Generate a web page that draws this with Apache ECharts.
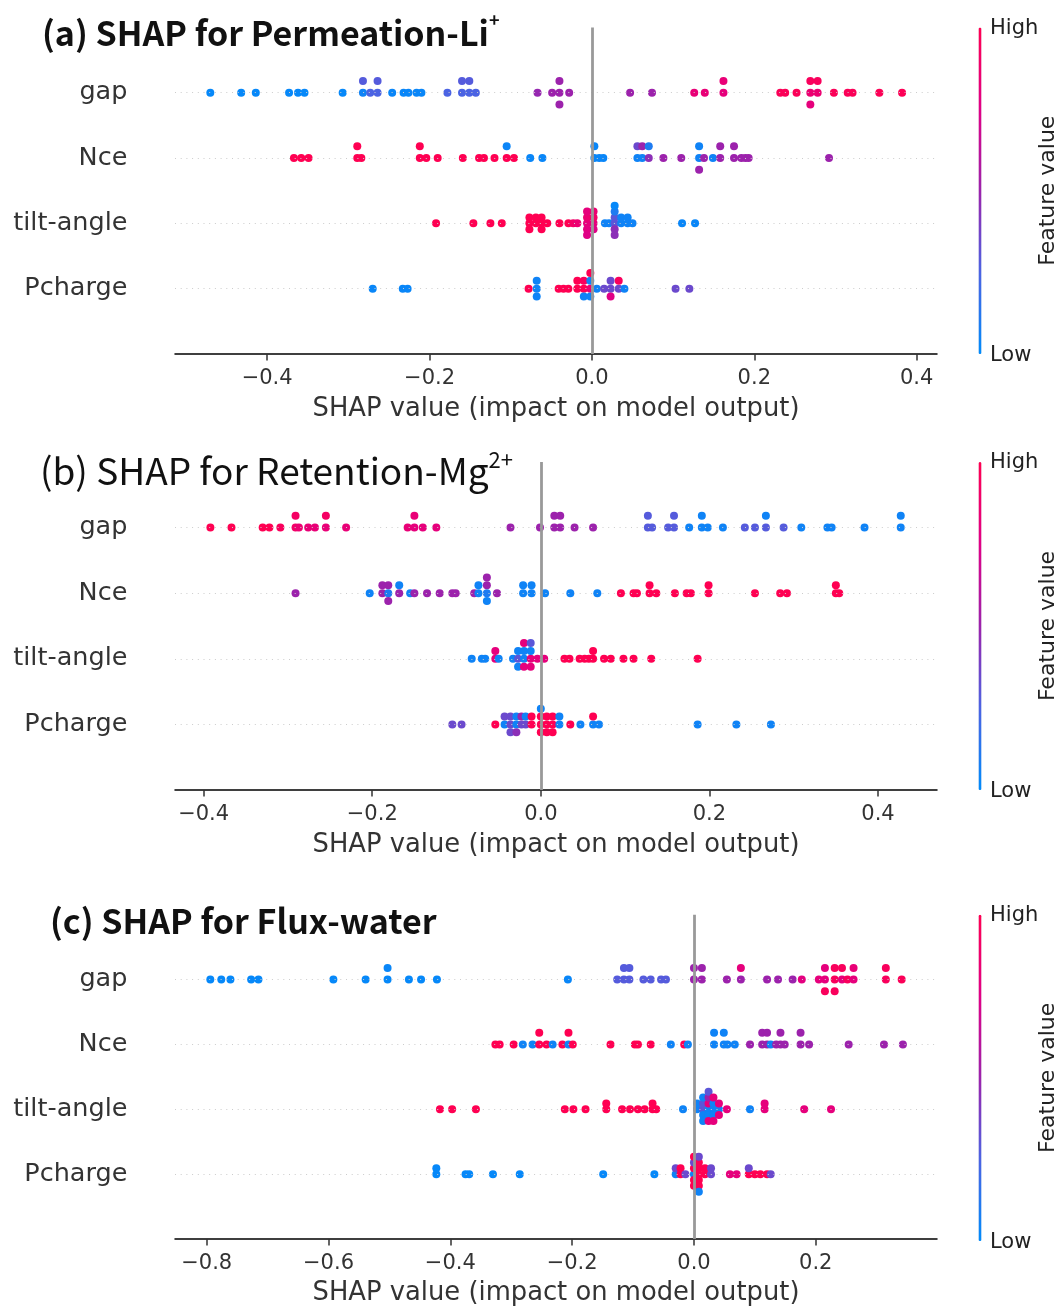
<!DOCTYPE html>
<html>
<head>
<meta charset="utf-8">
<script src="https://cdn.jsdelivr.net/npm/echarts@6/dist/echarts.min.js"></script>
<style>
  html, body { margin: 0; padding: 0; background: #fff; }
  #chart { width: 1062px; height: 1307px; }
</style>
</head>
<body>
<div id="chart"></div>
<script>
// Feature rows, listed top to bottom
const features = ['gap', 'Nce', 'tilt-angle', 'Pcharge'];

// Tick values of each SHAP axis
const ticksPerm = [-0.4, -0.2, 0.0, 0.2, 0.4];
const ticksRet = [-0.4, -0.2, 0.0, 0.2, 0.4];
const ticksFlux = [-0.8, -0.6, -0.4, -0.2, 0.0, 0.2];

const colorbarLabels = ['High', 'Low'];

// Each point: [SHAP value, normalised feature value (0 = low, 1 = high)]
// Points sharing a SHAP value fall in the same beeswarm bin.

// (a) Permeation-Li+
const permGap = [
  [-0.470,0.02],[-0.432,0.02],[-0.414,0.02],[-0.373,0.02],[-0.362,0.02],[-0.354,0.02],[-0.307,0.02],
  [-0.282,0.05],[-0.282,0.28],
  [-0.273,0.25],
  [-0.264,0.25],[-0.264,0.28],
  [-0.246,0.03],[-0.232,0.03],[-0.226,0.03],[-0.216,0.03],[-0.210,0.03],
  [-0.178,0.25],
  [-0.160,0.25],[-0.160,0.28],
  [-0.151,0.25],[-0.151,0.28],
  [-0.143,0.25],
  [-0.067,0.48],[-0.049,0.5],
  [-0.040,0.5],[-0.040,0.5],[-0.040,0.5],
  [-0.028,0.5],[0.047,0.5],[0.074,0.5],
  [0.126,0.82],[0.139,0.82],
  [0.162,0.8],[0.162,0.82],
  [0.232,0.97],[0.238,0.97],[0.252,0.97],
  [0.269,0.85],[0.269,0.95],[0.269,0.8],
  [0.278,0.85],[0.278,0.95],
  [0.298,0.97],[0.315,0.97],[0.321,0.97],[0.354,0.98],[0.382,0.98]
];
const permNce = [
  [-0.367,1],[-0.358,1],[-0.349,1],
  [-0.289,1],[-0.289,1],[-0.284,1],
  [-0.212,1],[-0.212,1],[-0.204,1],
  [-0.190,1],[-0.159,1],[-0.139,1],[-0.133,1],[-0.120,1],
  [-0.105,1],[-0.105,0.04],[-0.096,1],
  [-0.076,0.03],[-0.061,0.03],
  [0.003,0.03],[0.003,0.03],[0.009,0.03],[0.014,0.03],
  [0.056,0.05],[0.056,0.35],
  [0.062,0.05],[0.062,0.5],
  [0.070,0.45],[0.070,0.1],
  [0.088,0.5],[0.110,0.5],
  [0.132,0.05],[0.132,0.05],[0.132,0.5],
  [0.138,0.5],[0.149,0.05],
  [0.158,0.5],[0.158,0.5],
  [0.175,0.5],[0.175,0.5],
  [0.184,0.5],[0.189,0.5],[0.193,0.5],
  [0.292,0.5]
];
const permTilt = [
  [-0.192,1],[-0.146,1],[-0.125,1],[-0.111,1],
  [-0.077,1],[-0.077,1],[-0.077,1],
  [-0.069,1],[-0.069,1],
  [-0.062,1],[-0.062,1],[-0.062,1],
  [-0.055,1],
  [-0.040,1],[-0.029,1],[-0.023,0.9],[-0.018,0.85],
  [-0.006,0.8],[-0.006,0.85],[-0.006,0.78],[-0.006,0.8],[-0.006,0.75],
  [0.002,0.8],[0.002,0.9],[0.002,0.75],[0.002,0.85],
  [0.016,0.05],[0.021,0.05],
  [0.028,0.3],[0.028,0.3],[0.028,0.45],[0.028,0.1],[0.028,0.45],[0.028,0.02],
  [0.036,0.05],[0.036,0.05],
  [0.044,0.05],[0.044,0.05],
  [0.050,0.05],
  [0.111,0.03],[0.127,0.03]
];
const permPcharge = [
  [-0.270,0.03],[-0.233,0.03],[-0.227,0.03],
  [-0.078,1],
  [-0.068,0.05],[-0.068,0.05],[-0.068,0.05],
  [-0.041,1],[-0.035,1],[-0.029,1],
  [-0.018,1],[-0.018,1],
  [-0.010,1],[-0.010,0.95],[-0.010,0.05],
  [-0.002,0.85],[-0.002,0.05],[-0.002,0.05],[-0.002,1],
  [0.006,0.05],
  [0.015,0.35],
  [0.023,0.35],[0.023,0.35],[0.023,0.75],
  [0.033,0.35],[0.033,0.95],
  [0.040,0.05],
  [0.103,0.35],[0.120,0.35]
];

// (b) Retention-Mg2+
const retGap = [
  [-0.392,1],[-0.367,1],[-0.330,1],[-0.322,1],[-0.309,0.95],
  [-0.291,0.9],[-0.291,0.92],
  [-0.287,0.85],[-0.276,0.82],[-0.268,0.82],
  [-0.255,0.82],[-0.255,0.92],
  [-0.231,0.82],
  [-0.158,0.82],
  [-0.150,0.8],[-0.150,0.82],
  [-0.140,0.8],[-0.124,0.8],
  [-0.036,0.5],[-0.001,0.5],
  [0.016,0.5],[0.016,0.5],
  [0.023,0.5],[0.023,0.5],
  [0.040,0.5],[0.062,0.5],
  [0.127,0.28],[0.127,0.28],
  [0.132,0.28],
  [0.151,0.28],
  [0.158,0.28],[0.158,0.28],
  [0.176,0.05],
  [0.191,0.05],[0.191,0.05],
  [0.198,0.05],[0.216,0.05],
  [0.242,0.28],[0.254,0.28],
  [0.267,0.28],[0.267,0.05],
  [0.288,0.28],[0.309,0.05],
  [0.340,0.05],[0.345,0.05],[0.384,0.05],
  [0.427,0.05],[0.427,0.05]
];
const retNce = [
  [-0.291,0.5],
  [-0.203,0.05],
  [-0.188,0.5],[-0.188,0.5],
  [-0.181,0.1],[-0.181,0.5],[-0.181,0.5],
  [-0.168,0.5],[-0.168,0.05],
  [-0.155,0.05],[-0.150,0.5],
  [-0.135,0.5],[-0.120,0.5],[-0.105,0.5],[-0.101,0.5],
  [-0.079,0.5],
  [-0.074,0.05],[-0.074,0.05],
  [-0.064,0.1],[-0.064,0.5],[-0.064,0.05],[-0.064,0.5],
  [-0.052,0.5],
  [-0.021,0.05],[-0.021,0.05],
  [-0.011,0.05],[-0.011,0.05],
  [0.005,0.05],[0.035,0.05],[0.067,0.05],
  [0.095,1],[0.110,1],[0.114,1],
  [0.129,1],[0.129,1],
  [0.137,1],[0.159,1],[0.173,1],[0.178,1],
  [0.199,1],[0.199,1],
  [0.254,1],[0.284,1],[0.292,1],
  [0.350,1],[0.350,1],[0.354,1]
];
const retTilt = [
  [-0.082,0.05],[-0.070,0.05],[-0.066,0.05],
  [-0.054,0.8],[-0.054,0.8],
  [-0.050,0.05],
  [-0.033,0.05],
  [-0.027,0.3],[-0.027,0.05],[-0.027,0.05],
  [-0.020,0.05],[-0.020,0.05],[-0.020,0.8],[-0.020,0.8],
  [-0.012,0.8],[-0.012,0.05],[-0.012,0.8],[-0.012,0.3],
  [-0.004,0.8],[0.004,0.8],
  [0.028,1],[0.034,1],[0.046,1],[0.052,1],[0.057,1],
  [0.062,1],[0.062,1],
  [0.075,1],[0.083,1],[0.098,1],[0.110,1],[0.131,1],[0.186,1]
];
const retPcharge = [
  [-0.105,0.35],[-0.094,0.35],
  [-0.054,1],
  [-0.043,0.05],[-0.043,0.35],
  [-0.036,0.35],[-0.036,0.35],[-0.036,0.35],
  [-0.029,0.05],[-0.029,0.05],[-0.029,0.45],
  [-0.023,0.35],[-0.023,0.5],
  [-0.018,0.35],[-0.018,0.05],
  [-0.011,1],[-0.011,1],
  [0.000,1],[0.000,1],[0.000,1],[0.000,0.05],
  [0.007,1],[0.007,1],[0.007,1],
  [0.014,1],[0.014,1],[0.014,1],
  [0.022,0.05],[0.022,0.05],
  [0.035,1],[0.047,0.05],
  [0.062,0.05],[0.062,1],
  [0.069,0.05],
  [0.186,0.05],[0.232,0.05],[0.273,0.05]
];

// (c) Flux-water
const fluxGap = [
  [-0.794,0.02],[-0.776,0.02],[-0.761,0.02],[-0.727,0.02],[-0.715,0.02],
  [-0.592,0.02],[-0.539,0.02],
  [-0.503,0.02],[-0.503,0.03],
  [-0.468,0.02],[-0.448,0.02],[-0.422,0.02],
  [-0.207,0.03],
  [-0.126,0.28],
  [-0.115,0.28],[-0.115,0.28],
  [-0.106,0.28],[-0.106,0.28],
  [-0.083,0.28],[-0.071,0.28],[-0.054,0.28],[-0.046,0.28],
  [0.000,0.5],[0.000,0.5],
  [0.013,0.5],[0.013,0.5],
  [0.054,0.5],
  [0.077,0.5],[0.077,0.8],
  [0.120,0.5],[0.138,0.5],[0.162,0.5],[0.177,0.78],
  [0.205,0.8],
  [0.215,0.8],[0.215,0.8],[0.215,0.95],
  [0.231,0.95],[0.231,0.95],[0.231,0.95],
  [0.243,0.8],[0.243,0.95],
  [0.252,0.95],
  [0.262,0.8],[0.262,0.82],
  [0.315,0.95],[0.315,0.95],
  [0.341,0.97]
];
const fluxNce = [
  [-0.326,1],[-0.319,1],[-0.296,1],
  [-0.281,0.05],
  [-0.265,0.05],
  [-0.254,1],[-0.254,1],
  [-0.242,1],[-0.232,0.05],[-0.216,1],
  [-0.206,0.05],[-0.206,1],
  [-0.199,1],
  [-0.137,1],[-0.097,1],[-0.092,1],[-0.071,1],
  [-0.038,0.05],
  [-0.016,1],[-0.010,0.05],
  [0.033,0.05],[0.033,0.05],
  [0.049,0.05],[0.049,0.05],
  [0.055,0.05],[0.067,0.05],
  [0.092,0.5],
  [0.112,0.5],[0.112,0.5],
  [0.120,0.5],[0.120,0.5],
  [0.126,0.05],
  [0.135,0.5],
  [0.142,0.5],[0.142,0.5],
  [0.149,0.5],
  [0.175,0.5],[0.175,0.5],
  [0.189,0.5],
  [0.254,0.5],[0.312,0.5],[0.343,0.5]
];
const fluxTilt = [
  [-0.417,1],[-0.397,1],[-0.358,1],
  [-0.212,1],[-0.198,1],[-0.178,1],
  [-0.144,1],[-0.144,1],
  [-0.118,1],[-0.105,1],[-0.092,1],[-0.081,1],
  [-0.068,1],[-0.068,1],
  [-0.062,1],
  [-0.018,0.05],
  [0.005,0.05],[0.005,0.05],
  [0.015,0.3],[0.015,0.3],[0.015,0.05],[0.015,0.05],[0.015,0.05],
  [0.024,0.05],[0.024,0.8],[0.024,0.05],[0.024,0.5],[0.024,0.8],[0.024,0.3],
  [0.032,0.05],[0.032,0.05],[0.032,0.05],[0.032,0.8],[0.032,0.8],
  [0.041,0.05],[0.041,0.8],[0.041,0.8],
  [0.054,0.8],
  [0.092,0.05],
  [0.116,0.8],[0.116,0.8],
  [0.181,0.8],[0.225,0.8]
];
const fluxPcharge = [
  [-0.423,0.02],[-0.423,0.02],
  [-0.375,0.02],[-0.369,0.02],[-0.330,0.02],[-0.286,0.02],[-0.149,0.02],[-0.065,0.02],
  [-0.030,0.05],[-0.030,0.35],
  [-0.022,1],[-0.022,1],
  [-0.014,0.35],
  [0.000,0.05],[0.000,1],[0.000,1],[0.000,0.35],[0.000,1],[0.000,1],
  [0.008,1],[0.008,1],[0.008,1],[0.008,1],[0.008,1],[0.008,0.35],[0.008,0.05],
  [0.018,1],[0.018,1],
  [0.028,0.35],[0.028,0.35],
  [0.059,0.8],[0.070,0.8],
  [0.090,1],[0.090,0.35],
  [0.100,1],[0.109,1],[0.120,1],[0.126,0.35]
];

// SHAP red-blue colormap
const shapColors = ['#008bfb', '#4b63e3', '#9c22ac', '#e00086', '#ff0052'];

// Beeswarm layout: points of a bin alternate above / below the row,
// and each row's spread is scaled to fit inside its band.
function beeswarm(rows) {
  const out = [];
  rows.forEach((pts, i) => {
    const rowY = rows.length - 1 - i;
    const counts = new Map();
    const ys = pts.map(p => {
      const key = p[0].toFixed(4);
      const layer = counts.get(key) || 0;
      counts.set(key, layer + 1);
      return Math.ceil(layer / 2) * ((layer % 2) * 2 - 1);
    });
    const step = 0.9 * 0.4 / (Math.max(...ys) + 1);
    pts.forEach((p, k) => out.push([p[0], rowY + ys[k] * step, p[1]]));
  });
  return out;
}

const panels = [
  {
    title: '{m|(a) SHAP for Permeation-Li}{s|+}', titleLeft: 42, titleTop: 11, bold: true, mainSize: 34, supSize: 18, supLine: 33,
    rows: [permGap, permNce, permTilt, permPcharge], ticks: ticksPerm,
    min: -0.5135, max: 0.425, top: 27.4, height: 326.6, nameGap: 42
  },
  {
    title: '{m|(b) SHAP for Retention-Mg}{s|2+}', titleLeft: 40, titleTop: 449, bold: false, mainSize: 37, supSize: 22, supLine: 35,
    rows: [retGap, retNce, retTilt, retPcharge], ticks: ticksRet,
    min: -0.434, max: 0.470, top: 462, height: 328, nameGap: 42
  },
  {
    title: '{m|(c) SHAP for Flux-water}', titleLeft: 50, titleTop: 899, bold: true, mainSize: 34, supSize: 18, supLine: 33,
    rows: [fluxGap, fluxNce, fluxTilt, fluxPcharge], ticks: ticksFlux,
    min: -0.852, max: 0.399, top: 914.7, height: 326.3, nameGap: 41
  }
];

const tickFont = "'DejaVu Sans', sans-serif";
const titleFont = "'Noto Sans CJK SC', 'Noto Sans', sans-serif";
const fmtTick = v => (v < 0 ? '\u2212' : '') + Math.abs(v).toFixed(1);

const option = {
  backgroundColor: '#fff',
  animation: false,
  title: panels.map(p => ({
    text: p.title,
    left: p.titleLeft,
    top: p.titleTop,
    padding: 0,
    textStyle: {
      rich: {
        m: { fontFamily: titleFont, fontSize: p.mainSize, fontWeight: p.bold ? 'bold' : 'normal', color: '#111', lineHeight: 44 },
        s: { fontFamily: titleFont, fontSize: p.supSize, fontWeight: p.bold ? 'bold' : 'normal', color: '#111', lineHeight: p.supLine, verticalAlign: 'top' }
      }
    }
  })),
  grid: panels.map(p => ({ left: 175, width: 762, top: p.top, height: p.height })),
  xAxis: panels.map((p, i) => ({
    type: 'value', gridIndex: i, min: p.min, max: p.max,
    axisLine: { show: true, onZero: false, lineStyle: { color: '#000', width: 1.5 } },
    axisTick: { show: true, customValues: p.ticks, length: 6.5, lineStyle: { color: '#333', width: 1.5 } },
    axisLabel: { customValues: p.ticks, formatter: fmtTick, fontFamily: tickFont, fontSize: 21, color: '#333', margin: 14 },
    splitLine: { show: false },
    name: 'SHAP value (impact on model output)',
    nameLocation: 'middle', nameGap: p.nameGap,
    nameTextStyle: { fontFamily: tickFont, fontSize: 25.8, color: '#333' }
  })),
  yAxis: panels.map((p, i) => ({
    type: 'value', gridIndex: i, min: -1, max: 4,
    axisLine: { show: false }, axisTick: { show: false }, splitLine: { show: false },
    axisLabel: {
      customValues: [0, 1, 2, 3],
      formatter: v => features[3 - Math.round(v)],
      fontFamily: tickFont, fontSize: 25.5, color: '#333', margin: 47.6
    }
  })),
  visualMap: panels.map((p, i) => ({
    type: 'continuous', min: 0, max: 1, dimension: 2, seriesIndex: 2 * i + 1,
    inRange: { color: shapColors },
    orient: 'vertical', left: 978.5, top: p.top,
    itemWidth: 3, itemHeight: p.height, padding: 0,
    calculable: false, hoverLink: false, text: null
  })),
  series: [],
  graphic: []
};

panels.forEach((p, i) => {
  // reference lines: dotted row guides and the zero line
  option.series.push({
    type: 'scatter', xAxisIndex: i, yAxisIndex: i, data: [], z: 1, silent: true,
    markLine: {
      silent: true, symbol: ['none', 'none'], label: { show: false }, animation: false,
      data: [0, 1, 2, 3].map(r => ({ yAxis: r, lineStyle: { color: '#cccccc', width: 1, type: [1, 4.7] } }))
        .concat([{ xAxis: 0, lineStyle: { color: '#999999', width: 2.8, type: 'solid' } }])
    }
  });
  option.series.push({
    type: 'scatter', xAxisIndex: i, yAxisIndex: i, z: 3, silent: true,
    symbolSize: 8, itemStyle: { opacity: 1 },
    data: beeswarm(p.rows)
  });
  const barTop = p.top, barBottom = p.top + p.height;
  option.graphic.push(
    { type: 'text', x: 990, y: barTop + 1, style: { text: colorbarLabels[0], font: "21px 'DejaVu Sans'", fill: '#222', align: 'left', verticalAlign: 'middle', textAlign: 'left', textVerticalAlign: 'middle' } },
    { type: 'text', x: 990, y: barBottom + 2, style: { text: colorbarLabels[1], font: "21px 'DejaVu Sans'", fill: '#222', align: 'left', verticalAlign: 'middle', textAlign: 'left', textVerticalAlign: 'middle' } },
    { type: 'text', x: 1048, y: (barTop + barBottom) / 2, rotation: Math.PI / 2, style: { text: 'Feature value', font: "22px 'DejaVu Sans'", fill: '#222', align: 'center', verticalAlign: 'middle', textAlign: 'center', textVerticalAlign: 'middle' } }
  );
});

const chart = echarts.init(document.getElementById('chart'), null, { renderer: 'canvas' });
chart.setOption(option);
</script>
</body>
</html>
